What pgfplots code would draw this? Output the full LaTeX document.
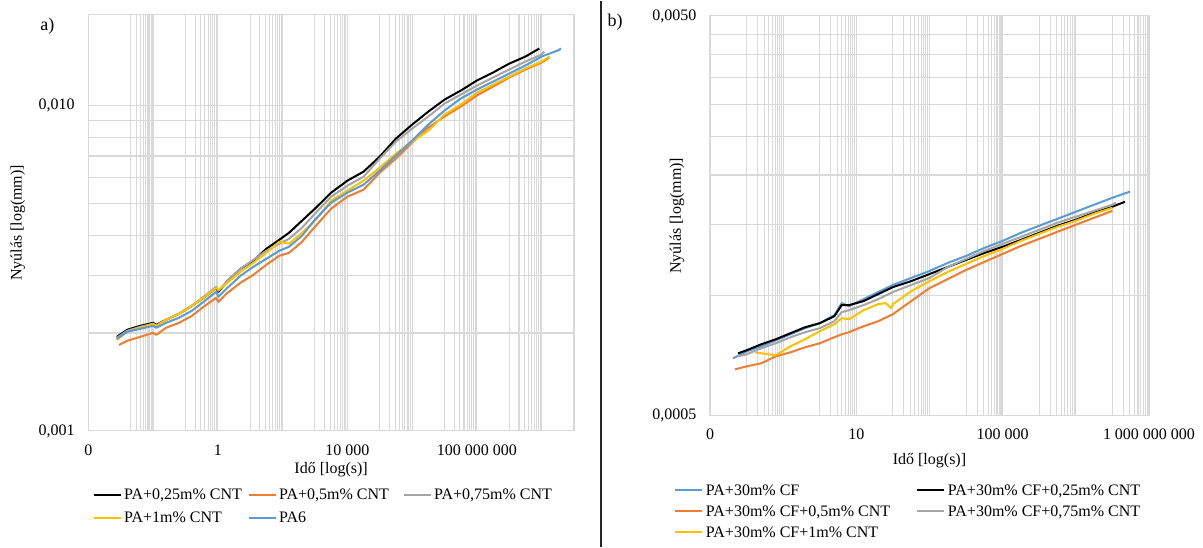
\documentclass[border=0pt]{standalone}
\usepackage{fontspec}
\setmainfont{Liberation Serif}
\usepackage{pgfplots}
\pgfplotsset{compat=1.18}
\definecolor{cblue}{HTML}{5B9BD5}
\definecolor{corange}{HTML}{ED7D31}
\definecolor{cgrey}{HTML}{A5A5A5}
\definecolor{cyellow}{HTML}{FFC000}
\definecolor{gridc}{HTML}{D9D9D9}
\newcommand{\lgt}[2]{\makebox[#1][l]{\rule[-3pt]{0pt}{12pt}\hspace{2pt}#2}}
\newcommand{\tw}{\fontsize{12}{14}\selectfont}
\pgfplotsset{excel/.style={
  scale only axis, anchor=south west,
  axis line style={draw=gridc, line width=0.8pt},
  grid=both,
  major grid style={draw=gridc, line width=0.8pt},
  minor grid style={draw=gridc, line width=0.8pt},
  major tick length=0pt, minor tick length=0pt,
  tick label style={font=\tw, inner sep=0pt},
  yticklabel style={anchor=east, xshift=-10pt},
  every axis plot/.append style={line width=1.5pt, mark=none, line join=round},
  legend cell align=left,
}}
\begin{document}
\begin{tikzpicture}
\path (0,0) rectangle (902.25pt,409.5pt);
\draw[line width=1.4pt, black!85] (450.75pt,0pt) -- (450.75pt,409.5pt);
\node[font=\fontsize{13.5}{15}\selectfont] at (35.6pt,390.75pt) {a)};
\node[font=\fontsize{13.5}{15}\selectfont] at (461.25pt,393.75pt) {b)};

% ---------------- a) ----------------
\begin{loglogaxis}[excel,
  at={(66.2pt,87pt)}, width=364.3pt, height=312pt,
  xmin=1e-4, xmax=1e11, ymin=0.001, ymax=0.019,
  xtick={1e-4,1,1e4,1e8}, xticklabels={0,1,10 000,100 000 000},
  xticklabel style={anchor=center, yshift=-14.25pt},
  minor xtick={2e-3,3e-3,4e-3,5e-3,6e-3,7e-3,8e-3,9e-3,1e-2,
    1e-1,2e-1,3e-1,4e-1,5e-1,6e-1,7e-1,8e-1,9e-1,
    10,20,30,40,50,60,70,80,90,100,
    1e3,2e3,3e3,4e3,5e3,6e3,7e3,8e3,9e3,
    1e5,2e5,3e5,4e5,5e5,6e5,7e5,8e5,9e5,1e6,
    1e7,2e7,3e7,4e7,5e7,6e7,7e7,8e7,9e7,
    1e9,2e9,3e9,4e9,5e9,6e9,7e9,8e9,9e9,1e10},
  ytick={0.001,0.01}, yticklabels={{0,001},{0,010}},
  minor ytick={0.002,0.003,0.004,0.005,0.006,0.007,0.008,0.009},
  xlabel={Idő [log(s)]}, ylabel={Nyúlás [log(mm)]},
  every axis x label/.style={at={(axis description cs:0.5,-0.094)}, anchor=center, font=\tw},
  every axis y label/.style={at={(axis description cs:-0.145,0.5)}, rotate=90, anchor=center, font=\tw},
  legend columns=3,
  legend image code/.code={\draw[#1, line width=1.5pt] (0pt,0pt) -- (20.25pt,0pt);},
  legend style={draw=none, fill=none, at={(axis description cs:0,-0.13)}, anchor=north west,
    font=\tw, nodes={inner sep=0pt}, row sep=6.75pt},
]
\addplot[black] table {
7.59e-4 1.946e-3
1.585e-3 2.046e-3
3.981e-3 2.104e-3
1e-2 2.149e-3
1.259e-2 2.119e-3
2.512e-2 2.196e-3
6.31e-2 2.291e-3
0.1585 2.424e-3
0.3981 2.584e-3
0.8913 2.754e-3
1.047 2.677e-3
1.995 2.894e-3
5.012 3.151e-3
12.59 3.336e-3
31.62 3.631e-3
79.43 3.870e-3
158.5 4.066e-3
398.1 4.428e-3
1000 4.822e-3
3162 5.399e-3
1e4 5.878e-3
3.162e4 6.265e-3
1e5 6.969e-3
3.162e5 7.916e-3
1e6 8.741e-3
3.162e6 9.583e-3
1e7 10.43e-3
3.162e7 11.12e-3
1e8 11.94e-3
3.162e8 12.64e-3
1e9 13.46e-3
3.162e9 14.15e-3
8.51e9 14.98e-3
};
\addplot[corange] table {
8.91e-4 1.839e-3
1.585e-3 1.892e-3
3.981e-3 1.946e-3
1e-2 2.003e-3
1.259e-2 1.974e-3
2.512e-2 2.075e-3
6.31e-2 2.149e-3
0.1585 2.259e-3
0.3981 2.424e-3
0.8913 2.566e-3
1.047 2.494e-3
1.995 2.658e-3
5.012 2.854e-3
12.59 3.020e-3
31.62 3.242e-3
79.43 3.456e-3
158.5 3.529e-3
398.1 3.815e-3
1000 4.243e-3
3162 4.822e-3
1e4 5.248e-3
3.162e4 5.514e-3
1e5 6.220e-3
3.162e5 6.871e-3
1e6 7.696e-3
3.162e6 8.557e-3
1e7 9.252e-3
3.162e7 9.929e-3
1e8 10.74e-3
3.162e8 11.44e-3
1e9 12.20e-3
3.162e9 12.91e-3
1e10 13.56e-3
1.738e10 14.05e-3
};
\addplot[cgrey] table {
7.59e-4 1.932e-3
1.585e-3 2.031e-3
3.981e-3 2.089e-3
1e-2 2.134e-3
1.259e-2 2.104e-3
2.512e-2 2.196e-3
6.31e-2 2.291e-3
0.1585 2.424e-3
0.3981 2.603e-3
0.8913 2.774e-3
1.047 2.697e-3
1.995 2.894e-3
5.012 3.151e-3
12.59 3.359e-3
31.62 3.580e-3
79.43 3.762e-3
158.5 3.897e-3
398.1 4.213e-3
1000 4.653e-3
3162 5.248e-3
1e4 5.673e-3
3.162e4 6.046e-3
1e5 6.871e-3
3.162e5 7.749e-3
1e6 8.496e-3
3.162e6 9.252e-3
1e7 10.14e-3
3.162e7 10.81e-3
1e8 11.52e-3
3.162e8 12.20e-3
1e9 12.91e-3
3.162e9 13.66e-3
1e10 14.35e-3
1.202e10 14.66e-3
};
\addplot[cyellow] table {
7.59e-4 1.905e-3
1.585e-3 2.017e-3
3.981e-3 2.075e-3
1e-2 2.134e-3
1.259e-2 2.104e-3
2.512e-2 2.196e-3
6.31e-2 2.291e-3
0.1585 2.424e-3
0.3981 2.584e-3
0.8913 2.754e-3
1.047 2.716e-3
1.995 2.854e-3
5.012 3.085e-3
12.59 3.288e-3
31.62 3.529e-3
79.43 3.815e-3
158.5 3.762e-3
398.1 4.066e-3
1000 4.428e-3
3162 5.102e-3
1e4 5.476e-3
3.162e4 5.878e-3
1e5 6.445e-3
3.162e5 7.118e-3
1e6 7.749e-3
3.162e6 8.377e-3
1e7 9.383e-3
3.162e7 10.07e-3
1e8 10.96e-3
3.162e8 11.60e-3
1e9 12.28e-3
3.162e9 13.00e-3
1e10 13.66e-3
1.738e10 14.15e-3
};
\addplot[cblue] table {
7.59e-4 1.919e-3
1.585e-3 2.017e-3
3.981e-3 2.060e-3
1e-2 2.104e-3
1.259e-2 2.075e-3
2.512e-2 2.149e-3
6.31e-2 2.227e-3
0.1585 2.340e-3
0.3981 2.512e-3
0.8913 2.677e-3
1.047 2.584e-3
1.995 2.754e-3
5.012 2.999e-3
12.59 3.196e-3
31.62 3.382e-3
79.43 3.580e-3
158.5 3.683e-3
398.1 3.981e-3
1000 4.459e-3
3162 5.029e-3
1e4 5.399e-3
3.162e4 5.713e-3
1e5 6.310e-3
3.162e5 7.020e-3
1e6 7.804e-3
3.162e6 8.741e-3
1e7 9.652e-3
3.162e7 10.51e-3
1e8 11.20e-3
3.162e8 11.85e-3
1e9 12.55e-3
3.162e9 13.28e-3
1e10 14.15e-3
3.162e10 14.77e-3
3.98e10 14.98e-3
};
\legend{\lgt{94.5pt}{PA+0,25m\% CNT},\lgt{94.5pt}{PA+0,5m\% CNT},\lgt{94.5pt}{PA+0,75m\% CNT},\lgt{94.5pt}{PA+1m\% CNT},\lgt{94.5pt}{PA6}}
\end{loglogaxis}

% ---------------- b) ----------------
\begin{loglogaxis}[excel,
  at={(532.5pt,98.55pt)}, width=329.25pt, height=299.7pt,
  xmin=1e-3, xmax=1e9, ymin=0.0005, ymax=0.005,
  xtick={1e-3,10,1e5,1e9}, xticklabels={0,10,100 000,1 000 000 000},
  xticklabel style={anchor=center, yshift=-14.25pt},
  minor xtick={1e-2,2e-2,3e-2,4e-2,5e-2,6e-2,7e-2,8e-2,9e-2,1e-1,
    1,2,3,4,5,6,7,8,9,
    100,200,300,400,500,600,700,800,900,1000,
    1e4,2e4,3e4,4e4,5e4,6e4,7e4,8e4,9e4,
    1e6,2e6,3e6,4e6,5e6,6e6,7e6,8e6,9e6,1e7,
    1e8,2e8,3e8,4e8,5e8,6e8,7e8,8e8,9e8},
  ytick={0.0005,0.005}, yticklabels={{0,0005},{0,0050}},
  minor ytick={0.001,0.0015,0.002,0.0025,0.003,0.0035,0.004,0.0045},
  xlabel={Idő [log(s)]}, ylabel={Nyúlás [log(mm)]},
  every axis x label/.style={at={(axis description cs:0.5,-0.114)}, anchor=center, font=\tw},
  every axis y label/.style={at={(axis description cs:-0.075,0.5)}, rotate=90, anchor=center, font=\tw},
  legend columns=2,
  legend image code/.code={\draw[#1, line width=1.5pt] (0pt,0pt) -- (20.25pt,0pt);},
  legend style={draw=none, fill=none, at={(axis description cs:-0.091,-0.162)}, anchor=north west,
    font=\tw, nodes={inner sep=0pt}, row sep=5.25pt},
]
\addplot[cblue] table {
4.266e-3 0.6954e-3
1e-2 0.7240e-3
2.512e-2 0.7453e-3
6.31e-2 0.7717e-3
0.1585 0.7989e-3
0.3981 0.8271e-3
1 0.8513e-3
2.512 0.8915e-3
3.981 0.9558e-3
6.31 0.9393e-3
15.85 0.9782e-3
39.81 1.019e-3
100 1.061e-3
316.2 1.105e-3
1000 1.150e-3
3162 1.205e-3
1e4 1.254e-3
3.162e4 1.314e-3
1e5 1.368e-3
3.162e5 1.433e-3
1e6 1.493e-3
3.162e6 1.554e-3
1e7 1.618e-3
3.162e7 1.685e-3
1e8 1.754e-3
3.02e8 1.817e-3
};
\addplot[black] table {
5.888e-3 0.7158e-3
1e-2 0.7283e-3
2.512e-2 0.7541e-3
6.31e-2 0.7762e-3
0.1585 0.8036e-3
0.3981 0.8319e-3
1 0.8513e-3
2.512 0.8864e-3
3.981 0.9448e-3
6.31 0.9448e-3
15.85 0.9669e-3
39.81 1.007e-3
100 1.048e-3
316.2 1.085e-3
1000 1.130e-3
3162 1.177e-3
1e4 1.226e-3
3.162e4 1.276e-3
1e5 1.322e-3
3.162e5 1.376e-3
1e6 1.433e-3
3.162e6 1.493e-3
1e7 1.545e-3
3.162e7 1.609e-3
1e8 1.666e-3
2.188e8 1.714e-3
};
\addplot[corange] table {
4.786e-3 0.6524e-3
1e-2 0.6640e-3
2.512e-2 0.6756e-3
6.31e-2 0.7035e-3
0.1585 0.7199e-3
0.3981 0.7410e-3
1 0.7585e-3
2.512 0.7852e-3
3.981 0.7989e-3
6.31 0.8082e-3
15.85 0.8367e-3
39.81 0.8612e-3
100 0.8968e-3
316.2 0.9669e-3
1000 1.042e-3
3162 1.098e-3
1e4 1.157e-3
3.162e4 1.212e-3
1e5 1.269e-3
3.162e5 1.329e-3
1e6 1.384e-3
3.162e6 1.442e-3
1e7 1.501e-3
3.162e7 1.563e-3
1e8 1.627e-3
};
\addplot[cgrey] table {
5.888e-3 0.7035e-3
1e-2 0.7117e-3
2.512e-2 0.7367e-3
6.31e-2 0.7585e-3
0.1585 0.7852e-3
0.3981 0.8082e-3
1 0.8271e-3
2.512 0.8612e-3
3.981 0.9072e-3
6.31 0.9177e-3
15.85 0.9448e-3
39.81 0.9782e-3
100 1.019e-3
316.2 1.061e-3
1000 1.105e-3
3162 1.177e-3
1e4 1.233e-3
3.162e4 1.291e-3
1e5 1.345e-3
3.162e5 1.400e-3
1e6 1.458e-3
3.162e6 1.519e-3
1e7 1.572e-3
3.162e7 1.627e-3
1e8 1.685e-3
1.259e8 1.705e-3
};
\addplot[cyellow] table {
1.698e-2 0.7199e-3
2.512e-2 0.7158e-3
3.981e-2 0.7117e-3
6.31e-2 0.7076e-3
0.1585 0.7453e-3
0.3981 0.7762e-3
1 0.8129e-3
2.512 0.8464e-3
3.981 0.8762e-3
6.31 0.8712e-3
15.85 0.9177e-3
39.81 0.9503e-3
63.1 0.9558e-3
89.13 0.9283e-3
100 0.9503e-3
316.2 1.024e-3
1000 1.085e-3
3162 1.144e-3
1e4 1.198e-3
3.162e4 1.254e-3
1e5 1.307e-3
3.162e5 1.368e-3
1e6 1.425e-3
3.162e6 1.484e-3
1e7 1.536e-3
3.162e7 1.600e-3
1e8 1.656e-3
};
\legend{\lgt{159.75pt}{PA+30m\% CF},\lgt{150pt}{PA+30m\% CF+0,25m\% CNT},\lgt{159.75pt}{PA+30m\% CF+0,5m\% CNT},\lgt{150pt}{PA+30m\% CF+0,75m\% CNT},\lgt{159.75pt}{PA+30m\% CF+1m\% CNT}}
\end{loglogaxis}
\end{tikzpicture}
\end{document}
